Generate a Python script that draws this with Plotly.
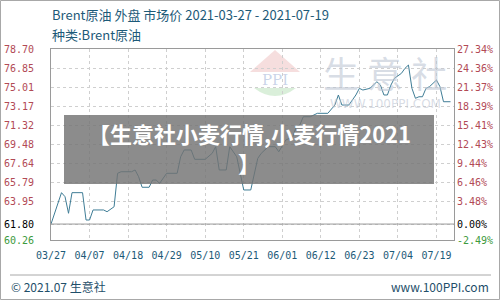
import plotly.graph_objects as go

# ---------------- data ----------------
dates = ["2021-03-27","2021-03-30","2021-03-31","2021-04-01","2021-04-02","2021-04-05","2021-04-06",
         "2021-04-07","2021-04-08","2021-04-11","2021-04-12","2021-04-14","2021-04-15","2021-04-16",
         "2021-04-19","2021-04-20","2021-04-21","2021-04-22","2021-04-24","2021-04-25","2021-04-26",
         "2021-04-27","2021-04-29","2021-05-02","2021-05-03","2021-05-04","2021-05-06","2021-05-07",
         "2021-05-10","2021-05-12","2021-05-13","2021-05-14","2021-05-16","2021-05-17","2021-05-19",
         "2021-05-21","2021-05-23","2021-05-25","2021-05-26","2021-05-28","2021-05-30","2021-05-31",
         "2021-06-02","2021-06-04","2021-06-05","2021-06-06","2021-06-07","2021-06-09","2021-06-11",
         "2021-06-14","2021-06-16","2021-06-17","2021-06-18","2021-06-20","2021-06-22","2021-06-23",
         "2021-06-24","2021-06-26","2021-06-28","2021-06-29","2021-06-30","2021-07-01","2021-07-02",
         "2021-07-03","2021-07-05","2021-07-06","2021-07-07","2021-07-08","2021-07-09","2021-07-10",
         "2021-07-11","2021-07-12","2021-07-13","2021-07-15","2021-07-16","2021-07-17","2021-07-19"]
prices = [61.80, 64.83, 64.44, 62.84, 64.83, 64.83, 62.19, 62.19, 63.16, 63.16, 62.99, 63.47, 66.70,
          66.85, 66.85, 67.02, 66.37, 65.35, 65.35, 66.05, 66.05, 65.73, 66.70, 66.70, 68.30, 68.95,
          68.95, 68.05, 68.05, 68.63, 69.27, 67.02, 67.02, 69.27, 68.30, 65.09, 65.09, 68.14, 68.63,
          69.27, 69.27, 68.78, 69.91, 70.23, 71.20, 71.36, 72.16, 72.16, 72.49, 72.49, 73.29, 74.26,
          73.29, 73.29, 74.26, 74.90, 74.74, 74.90, 75.54, 75.22, 74.26, 74.26, 75.22, 75.87, 76.35,
          76.83, 77.15, 74.90, 73.94, 74.09, 74.09, 74.90, 75.06, 75.70, 75.06, 73.61, 73.61]

base_price = 61.80
y_ticks = [78.70, 76.85, 75.01, 73.17, 71.32, 69.48, 67.64, 65.79, 63.95, 61.80, 60.26]
pct_labels = ["27.34%", "24.36%", "21.37%", "18.39%", "15.41%", "12.43%", "9.44%",
              "6.46%", "3.48%", "0.00%", "-2.49%"]
x_tick_dates = ["2021-03-27","2021-04-07","2021-04-18","2021-04-29","2021-05-10","2021-05-21",
                "2021-06-01","2021-06-12","2021-06-23","2021-07-04","2021-07-15"]
x_tick_labels = ["03/27","04/07","04/18","04/29","05/10","05/21","06/01","06/12","06/23","07/04","07/19"]

title_line1 = "Brent原油 外盘 市场价 2021-03-27 - 2021-07-19"
title_line2 = "种类:Brent原油"
banner_line1 = "【生意社小麦行情,小麦行情2021"
banner_line2 = "】"

# ---------------- styling ----------------
UP = "#b24a55"
DOWN = "#3d9a3d"
TXT = "#1d5a78"

def col(v, s):
    c = UP if v > base_price else ("#000000" if v == base_price else DOWN)
    return f'<span style="color:{c}">{s}</span>'

left_text = [col(v, f"{v:.2f}") for v in y_ticks]
right_text = [col(v, p) for v, p in zip(y_ticks, pct_labels)]

fig = go.Figure()
fig.add_trace(go.Scatter(x=dates, y=prices, mode="lines",
                         line=dict(color="#3f7d96", width=1), showlegend=False, hoverinfo="skip"))
fig.add_trace(go.Scatter(x=dates, y=prices, mode="lines", yaxis="y2", opacity=0,
                         line=dict(color="#3f7d96", width=1), showlegend=False, hoverinfo="skip"))

tickfont = dict(family="DejaVu Sans Mono", size=10, color=UP)

L, R, T, B = 51, 46, 49, 60
PW, PH = 500 - L - R, 300 - T - B

fig.update_layout(
    width=500, height=300,
    margin=dict(l=L, r=R, t=T, b=B, autoexpand=False),
    paper_bgcolor="white", plot_bgcolor="white",
    xaxis=dict(type="date", range=["2021-03-27", "2021-07-20"], automargin=False,
               tickvals=x_tick_dates, ticktext=x_tick_labels,
               tickfont=dict(family="DejaVu Sans Mono", size=10, color=TXT),
               showgrid=True, gridcolor="#cfcfcf", griddash="dot", gridwidth=1,
               showline=True, linecolor="#9a9a9a", mirror=True, ticks="", ticklabelstandoff=6,
               zeroline=False),
    yaxis=dict(range=[60.26, 78.70], tickvals=y_ticks, ticktext=left_text, tickfont=tickfont,
               automargin=False,
               showgrid=True, gridcolor="#cfcfcf", griddash="dot", gridwidth=1,
               showline=True, linecolor="#9a9a9a", mirror=True, ticks="", ticklabelstandoff=14,
               zeroline=False),
    yaxis2=dict(range=[60.26, 78.70], tickvals=y_ticks, ticktext=right_text, tickfont=tickfont,
                automargin=False,
                overlaying="y", side="right", showgrid=False, showline=False, ticks="",
                ticklabelstandoff=2, zeroline=False),
)

# base line
fig.add_hline(y=base_price, line=dict(color="#9a9a9a", width=1))

def px(x): return (x - L) / PW
def py(y): return (T + PH - y) / PH

shapes = []
# outer border
shapes.append(dict(type="rect", xref="paper", yref="paper",
                   x0=px(0.5), x1=px(499.5), y0=py(299.5), y1=py(0.5),
                   line=dict(color="#a8a8a8", width=1), fillcolor="rgba(0,0,0,0)", layer="below"))
# footer rule
shapes.append(dict(type="line", xref="paper", yref="paper",
                   x0=px(10), x1=px(491), y0=py(275), y1=py(275),
                   line=dict(color="#a8a8a8", width=1)))
# watermark logo: roof triangle and green base
shapes.append(dict(type="path", xref="paper", yref="paper",
                   path=f"M {px(250)} {py(72)} L {px(275)} {py(50)} L {px(300)} {py(72)} Z",
                   fillcolor="rgba(230,160,160,0.35)", line=dict(width=0), layer="below"))
shapes.append(dict(type="path", xref="paper", yref="paper",
                   path=f"M {px(254)} {py(88)} Q {px(275)} {py(104)} {px(296)} {py(88)} Z",
                   fillcolor="rgba(150,210,150,0.35)", line=dict(width=0), layer="below"))
# banner
shapes.append(dict(type="rect", xref="paper", yref="paper",
                   x0=px(64), x1=px(434), y0=py(184), y1=py(115),
                   fillcolor="rgba(115,115,115,0.82)", line=dict(width=0), layer="above"))
fig.update_layout(shapes=list(fig.layout.shapes) + shapes)

ann = []
ann.append(dict(text=title_line1, x=px(50), y=py(15), xref="paper", yref="paper",
                xanchor="left", yanchor="middle", showarrow=False,
                font=dict(family="Noto Sans CJK SC", size=13, color=TXT)))
ann.append(dict(text=title_line2, x=px(50), y=py(34), xref="paper", yref="paper",
                xanchor="left", yanchor="middle", showarrow=False,
                font=dict(family="Noto Sans CJK SC", size=13, color=TXT)))
ann.append(dict(text="© 2021.07 生意社", x=px(9), y=py(286), xref="paper", yref="paper",
                xanchor="left", yanchor="middle", showarrow=False,
                font=dict(family="Noto Sans CJK SC", size=12, color="#1f4f6a")))
ann.append(dict(text="www.100PPI.com", x=px(491), y=py(286), xref="paper", yref="paper",
                xanchor="right", yanchor="middle", showarrow=False,
                font=dict(family="Noto Sans CJK SC", size=12, color="#1f4f6a")))
ann.append(dict(text="生 意 社", x=px(385), y=py(72), xref="paper", yref="paper",
                xanchor="center", yanchor="middle", showarrow=False,
                font=dict(family="Noto Sans CJK SC", size=36, color="rgba(190,198,212,0.6)")))
ann.append(dict(text="WWW.100PPI.COM", x=px(385), y=py(104), xref="paper", yref="paper",
                xanchor="center", yanchor="middle", showarrow=False,
                font=dict(family="DejaVu Sans", size=12, color="rgba(190,198,212,0.6)")))
ann.append(dict(text="PPI", x=px(275), y=py(80), xref="paper", yref="paper",
                xanchor="center", yanchor="middle", showarrow=False,
                font=dict(family="DejaVu Serif", size=15, color="rgba(150,170,210,0.5)")))
ann.append(dict(text=banner_line1, x=px(249), y=py(133), xref="paper", yref="paper",
                xanchor="center", yanchor="middle", showarrow=False,
                font=dict(family="Noto Sans CJK SC", size=22, color="white", weight="bold")))
ann.append(dict(text=banner_line2, x=px(249), y=py(162), xref="paper", yref="paper",
                xanchor="center", yanchor="middle", showarrow=False,
                font=dict(family="Noto Sans CJK SC", size=22, color="white", weight="bold")))
fig.update_layout(annotations=ann)

fig.write_html("out.html")
